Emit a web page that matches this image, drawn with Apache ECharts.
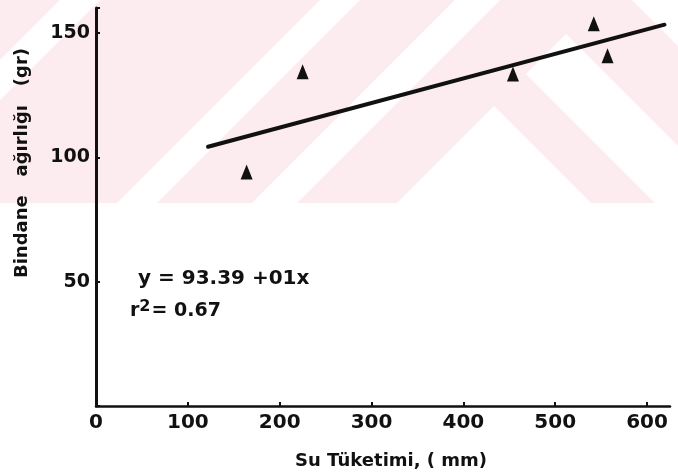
<!DOCTYPE html>
<html>
<head>
<meta charset="utf-8">
<script src="https://cdn.jsdelivr.net/npm/echarts@6/dist/echarts.min.js"></script>
<style>
  html, body { margin: 0; padding: 0; background: #fff; }
  #main { width: 678px; height: 475px; }
</style>
</head>
<body>
<div id="main"></div>
<script>
// olculen noktalar (Su tuketimi mm, bindane agirligi gr)
var suTuketimi = [164, 225, 454, 542, 557];
var bindane = [94.1, 134.4, 133.5, 153.7, 140.8];

// regresyon dogrusu uclari
var regX = [122, 619];
var regY = [104.2, 153.3];

var xTicks = [0, 100, 200, 300, 400, 500, 600];
var yTicks = [50, 100, 150];

var denklem = 'y = 93.39 +01x';
var r2Deger = '= 0.67';

var noktalar = [];
for (var i = 0; i < suTuketimi.length; i++) {
	noktalar.push([suTuketimi[i], bindane[i]]);
}
var dogru = [];
for (var i = 0; i < regX.length; i++) {
	dogru.push([regX[i], regY[i]]);
}

var pembe = '#fdecef';
var siyah = '#111';
var yazi = 'DejaVu Sans';

// arka plandaki filigran (pembe alan + beyaz seritler)
function filigran() {
	var beyaz = { fill: '#fff' };
	var sekiller = [
		[[60, 0], [100, 0], [0, 100], [0, 60]],
		[[320, 0], [360, 0], [157, 203], [117, 203]],
		[[455, 0], [500, 0], [297, 203], [252, 203]],
		[[632, 0], [678, 0], [678, 46]],
		[[566, 34], [678, 146], [678, 203], [655, 203], [526, 74]],
		[[494, 106], [591, 203], [397, 203]]
	];
	var el = [{
		type: 'rect', z: -10, silent: true,
		shape: { x: 0, y: 0, width: 678, height: 203 },
		style: { fill: pembe }
	}];
	for (var i = 0; i < sekiller.length; i++) {
		el.push({ type: 'polygon', z: -9, silent: true, shape: { points: sekiller[i] }, style: beyaz });
	}
	return el;
}

var myChart = echarts.init(document.getElementById('main'));

var grafikler = filigran().concat([
	{
		type: 'text', left: 138, top: 269, z: 10,
		style: { text: denklem, font: 'bold 20px "' + yazi + '"', fill: siyah }
	},
	{
		type: 'text', left: 130, top: 299, z: 10,
		style: {
			text: '{a|r}{b|2}{a|' + r2Deger + '}',
			fill: siyah,
			rich: {
				a: { fontFamily: yazi, fontWeight: 'bold', fontSize: 19, fill: siyah, padding: [8, 0, 0, 0] },
				b: { fontFamily: yazi, fontWeight: 'bold', fontSize: 16, fill: siyah, padding: [0, 1, 0, 0] }
			}
		}
	},
	{
		type: 'text', x: 391, y: 461, z: 10,
		style: { text: 'Su Tüketimi, ( mm)', font: 'bold 18px "' + yazi + '"', fill: siyah, align: 'center', verticalAlign: 'middle' }
	},
	{
		type: 'text', x: 22, y: 163, rotation: Math.PI / 2, z: 10,
		style: { text: 'Bindane   ağırlığı   (gr)', font: 'bold 18px "' + yazi + '"', fill: siyah, align: 'center', verticalAlign: 'middle' }
	}
]);

var option = {
	backgroundColor: '#fff',
	animation: false,
	grid: { left: 96, right: 8, top: 8, bottom: 69 },
	graphic: grafikler,
	xAxis: {
		type: 'value',
		min: 0, max: 625, interval: 100,
		splitLine: { show: false },
		axisLine: { onZero: false, lineStyle: { color: siyah, width: 2.5 } },
		axisTick: { inside: true, length: 4, lineStyle: { color: siyah, width: 2 } },
		axisLabel: {
			color: siyah, fontFamily: yazi, fontWeight: 'bold', fontSize: 20, margin: 7, showMaxLabel: false,
			formatter: function (v) { return xTicks.indexOf(v) >= 0 ? String(v) : ''; }
		}
	},
	yAxis: {
		type: 'value',
		min: 0, max: 160, interval: 50,
		splitLine: { show: false },
		axisLine: { lineStyle: { color: siyah, width: 3 } },
		axisTick: { inside: true, length: 4, lineStyle: { color: siyah, width: 2 } },
		axisLabel: {
			color: siyah, fontFamily: yazi, fontWeight: 'bold', fontSize: 19, margin: 6,
			formatter: function (v) { return yTicks.indexOf(v) >= 0 ? String(v) : ''; }
		}
	},
	series: [
		{
			type: 'line',
			data: dogru,
			showSymbol: false,
			lineStyle: { color: siyah, width: 4, cap: 'round' },
			z: 3
		},
		{
			type: 'scatter',
			data: noktalar,
			symbol: 'triangle',
			symbolSize: [12, 15],
			itemStyle: { color: siyah, opacity: 1 },
			z: 4
		}
	]
};

myChart.setOption(option);
</script>
</body>
</html>
